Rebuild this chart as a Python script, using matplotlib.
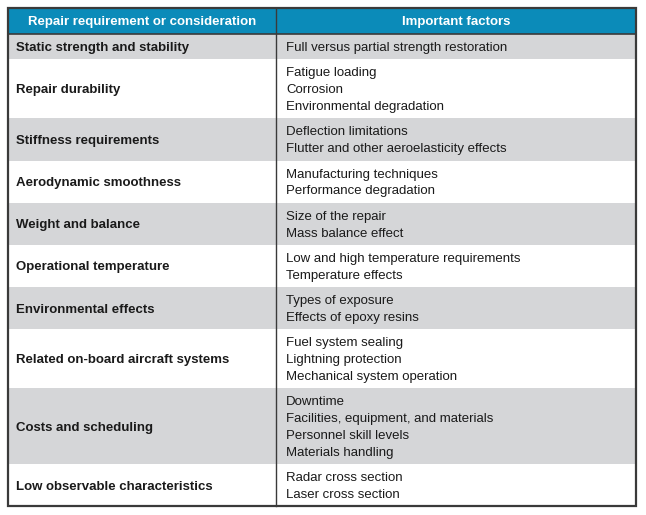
import matplotlib
matplotlib.use("Agg")
import matplotlib.pyplot as plt
from matplotlib.patches import Rectangle

headers = ["Repair requirement or consideration", "Important factors"]
requirements = [
    "Static strength and stability",
    "Repair durability",
    "Stiffness requirements",
    "Aerodynamic smoothness",
    "Weight and balance",
    "Operational temperature",
    "Environmental effects",
    "Related on-board aircraft systems",
    "Costs and scheduling",
    "Low observable characteristics",
]
factors = [
    ["Full versus partial strength restoration"],
    ["Fatigue loading", "Corrosion", "Environmental degradation"],
    ["Deflection limitations", "Flutter and other aeroelasticity effects"],
    ["Manufacturing techniques", "Performance degradation"],
    ["Size of the repair", "Mass balance effect"],
    ["Low and high temperature requirements", "Temperature effects"],
    ["Types of exposure", "Effects of epoxy resins"],
    ["Fuel system sealing", "Lightning protection", "Mechanical system operation"],
    ["Downtime", "Facilities, equipment, and materials",
     "Personnel skill levels", "Materials handling"],
    ["Radar cross section", "Laser cross section"],
]

W, H = 646, 515
fig = plt.figure(figsize=(W / 100, H / 100), dpi=100)
ax = fig.add_axes([0, 0, 1, 1])
ax.set_xlim(0, W)
ax.set_ylim(H, 0)
ax.axis("off")

x0, x1, xm = 8, 636, 276
top, head_h = 8, 26
line_h, pad = 16.8, 8.6
font = "Liberation Sans"
fs = 9.5
header_col = "#0b8bb9"
gray = "#d5d6d8"
edge = "#3a3a3a"
dy = 1.3  # small downward nudge of text baselines

# header
ax.add_patch(Rectangle((x0, top), x1 - x0, head_h, color=header_col, lw=0))
for txt, (a, b) in zip(headers, [(x0, xm), (xm, x1)]):
    ax.text((a + b) / 2, top + head_h / 2 + dy, txt, ha="center", va="center",
            color="white", fontsize=fs, fontweight="bold", family=font)

y = top + head_h
for i, (req, fac) in enumerate(zip(requirements, factors)):
    h = len(fac) * line_h + pad
    if i % 2 == 0:
        ax.add_patch(Rectangle((x0, y), x1 - x0, h, color=gray, lw=0))
    ax.text(x0 + 8, y + h / 2 + dy, req, ha="left", va="center",
            fontsize=fs, fontweight="bold", family=font, color="#1a1a1a")
    start = y + h / 2 - (len(fac) - 1) * line_h / 2
    for k, f in enumerate(fac):
        ax.text(xm + 10, start + k * line_h + dy, f, ha="left", va="center",
                fontsize=fs, family=font, color="#1a1a1a")
    y += h
bottom = y

# borders
ax.plot([x0, x1], [top + head_h, top + head_h], color=edge, lw=1.2)
ax.plot([xm, xm], [top, bottom], color=edge, lw=1.0)
ax.add_patch(Rectangle((x0, top), x1 - x0, bottom - top, fill=False,
                       edgecolor=edge, lw=1.6))

fig.savefig("out.png", dpi=100)
